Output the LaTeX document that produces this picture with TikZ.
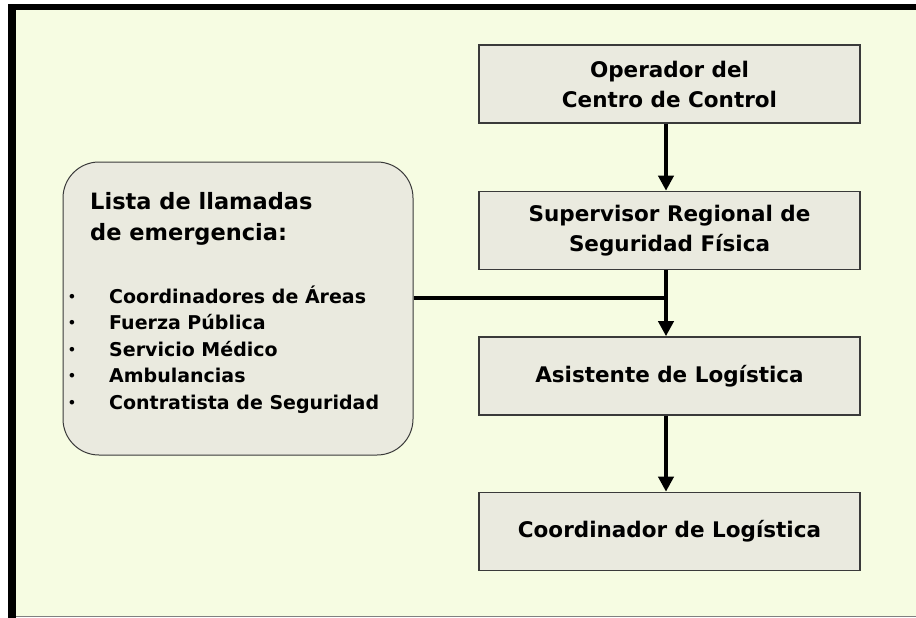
\documentclass[tikz,border=0pt]{standalone}
\usepackage{fontspec}
\setmainfont{DejaVu Sans}
\usetikzlibrary{arrows.meta}
\definecolor{bgy}{HTML}{F6FCE2}
\definecolor{boxg}{HTML}{EAEADF}
\definecolor{edg}{HTML}{3A3A3A}
\tikzset{
 stepbox/.style={draw=edg, line width=1.6pt, fill=boxg, minimum width=381pt, minimum height=78pt, inner sep=0pt, align=center, font=\bfseries\fontsize{21.5}{30}\selectfont},
 conn/.style={line width=4pt, -{Triangle[length=15pt,width=15pt]}},
 listtxt/.style={anchor=base west, inner sep=0pt, font=\bfseries\fontsize{19}{24}\selectfont},
 bul/.style={anchor=base, inner sep=0pt, font=\bfseries\fontsize{13}{16}\selectfont},
 head/.style={anchor=base west, inner sep=0pt, font=\bfseries\fontsize{22.5}{30}\selectfont}
}
\begin{document}
\begin{tikzpicture}[x=1pt,y=-1pt]
\useasboundingbox (0,0) rectangle (916,618);
\fill[white] (0,0) rectangle (916,618);
\fill[bgy] (16,10) rectangle (916,616);
\fill[black] (7.5,4) rectangle (16,618);
\fill[black] (7.5,4) rectangle (916,10);
\draw[gray, line width=1pt] (16,616.5) -- (916,616.5);

\node[stepbox] (op) at (669.5,84) {Operador del\\Centro de Control};
\node[stepbox] (sup) at (669.5,230.5) {Supervisor Regional de\\Seguridad Física};
\node[stepbox] (asi) at (669.5,376) {Asistente de Logística};
\node[stepbox] (coo) at (669.5,531.5) {Coordinador de Logística};

\node[draw=edg, line width=1pt, fill=boxg, rounded corners=36pt, minimum width=350pt, minimum height=293pt, inner sep=0pt] (lista) at (238,308.5) {};

\node[head] (h1) at (90,209) {Lista de llamadas};
\node[head] (h2) at (90,240) {de emergencia:};

\node[listtxt] (i1) at (109,303) {Coordinadores de Áreas};
\node[listtxt] (i2) at (109,329.5) {Fuerza Pública};
\node[listtxt] (i3) at (109,356) {Servicio Médico};
\node[listtxt] (i4) at (109,382.5) {Ambulancias};
\node[listtxt] (i5) at (109,409) {Contratista de Seguridad};
\node[bul] (b1) at (72,301) {•};
\node[bul] (b2) at (72,327.5) {•};
\node[bul] (b3) at (72,354) {•};
\node[bul] (b4) at (72,380.5) {•};
\node[bul] (b5) at (72,407) {•};

\coordinate (j) at (666,298);
\draw[conn] ([xshift=-3.5pt]op.south) -- ([xshift=-3.5pt]sup.north);
\draw[line width=4pt] (lista.east |- j) -- ([xshift=2pt]j);
\draw[conn] ([xshift=-3.5pt]sup.south) -- ([xshift=-3.5pt]asi.north);
\draw[conn] ([xshift=-3.5pt]asi.south) -- ([xshift=-3.5pt]coo.north);
\end{tikzpicture}
\end{document}
